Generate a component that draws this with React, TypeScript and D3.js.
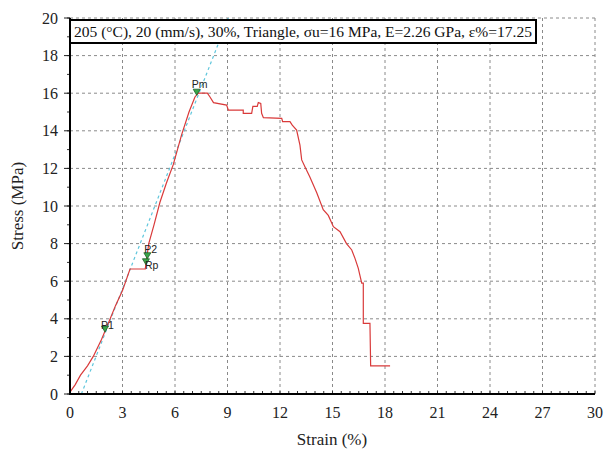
import React from "react";
import * as d3 from "d3";

const strain = [0, 0.3, 0.6, 1.0, 1.33, 1.8, 2.25, 2.6, 3.0, 3.43, 4.3, 4.35, 4.5, 4.8, 5.14, 5.5, 5.9, 6.38, 6.8, 7.14, 7.33, 7.85, 8.0, 8.2, 8.95, 9.05, 9.9, 9.9, 10.38, 10.45, 10.7, 10.76, 10.9, 10.95, 11.05, 12.1, 12.15, 12.57, 12.7, 12.95, 13.14, 13.24, 13.52, 13.7, 14.1, 14.47, 14.76, 15.05, 15.43, 15.8, 16.1, 16.29, 16.47, 16.67, 16.76, 16.76, 17.14, 17.18, 18.29];
const stress = [0.1, 0.5, 1.0, 1.5, 2.0, 2.9, 3.9, 4.7, 5.5, 6.65, 6.65, 7.0, 8.0, 9.0, 10.2, 11.2, 12.2, 13.8, 15.0, 15.8, 16.0, 16.0, 15.8, 15.5, 15.37, 15.1, 15.1, 14.93, 14.93, 15.3, 15.3, 15.5, 15.45, 14.93, 14.7, 14.66, 14.49, 14.49, 14.3, 14.04, 13.24, 12.45, 11.9, 11.56, 10.7, 9.8, 9.5, 8.9, 8.63, 8.0, 7.66, 7.2, 6.7, 5.9, 5.9, 3.76, 3.76, 1.5, 1.5];

const tangentStrain = [0.65, 9.05];
const tangentStress = [0, 20];

const pointNames = ["P1", "P2", "Rp", "Pm"];
const pointStrain = [2.0, 4.42, 4.34, 7.24];
const pointStress = [3.4, 7.3, 6.98, 16.0];

const xTicks = [0, 3, 6, 9, 12, 15, 18, 21, 24, 27, 30];
const yTicks = [0, 2, 4, 6, 8, 10, 12, 14, 16, 18, 20];

const legendText = "205 (°C), 20 (mm/s), 30%, Triangle, σu=16 MPa, E=2.26 GPa, ε%=17.25";

export default function App() {
  const W = 606, H = 454;
  const left = 70, right = 595, top = 18, bottom = 394;
  const x = d3.scaleLinear().domain([0, 30]).range([left, right]);
  const y = d3.scaleLinear().domain([0, 20]).range([bottom, top]);
  const line = d3.line<number>().x((_, i) => x(strain[i])).y((_, i) => y(stress[i]));
  const curve = line(strain) || "";
  const serif = "'Liberation Serif', 'Times New Roman', serif";
  const sans = "'Liberation Sans', Arial, sans-serif";
  const minorX = d3.range(0, 30.01, 0.5);
  const minorY = d3.range(0, 20.01, 1);
  const labelOffsets: Record<string, [number, number]> = {
    P1: [-4, -1],
    P2: [-3, -4],
    Rp: [-1, 6],
    Pm: [-5, -5],
  };
  return (
    <svg width={W} height={H} style={{ position: "absolute", left: 0, top: 0, background: "#fff" }}>
      <rect x={0} y={0} width={W} height={H} fill="#fff" />
      <defs>
        <clipPath id="plotclip">
          <rect x={left} y={top} width={right - left} height={bottom - top} />
        </clipPath>
      </defs>
      {xTicks.filter((t) => t > 0).map((t) => (
        <line key={"gx" + t} x1={x(t)} x2={x(t)} y1={top} y2={bottom} stroke="#8a8a8a" strokeWidth={1} strokeDasharray="3,3" />
      ))}
      {yTicks.filter((t) => t > 0).map((t) => (
        <line key={"gy" + t} x1={left} x2={right} y1={y(t)} y2={y(t)} stroke="#8a8a8a" strokeWidth={1} strokeDasharray="3,3" />
      ))}
      {minorX.map((t) => (
        <line key={"mx" + t} x1={x(t)} x2={x(t)} y1={bottom} y2={bottom - 3} stroke="#333" strokeWidth={1} />
      ))}
      {minorY.map((t) => (
        <line key={"my" + t} x1={left} x2={left - 3} y1={y(t)} y2={y(t)} stroke="#333" strokeWidth={1} />
      ))}
      {yTicks.map((t) => (
        <line key={"ty" + t} x1={left} x2={left - 6} y1={y(t)} y2={y(t)} stroke="#222" strokeWidth={1} />
      ))}
      <g clipPath="url(#plotclip)">
        <line x1={x(tangentStrain[0])} y1={y(tangentStress[0])} x2={x(tangentStrain[1])} y2={y(tangentStress[1])} stroke="#5ec6dc" strokeWidth={1.2} strokeDasharray="3,3" />
        <path d={curve} fill="none" stroke="#d93a3a" strokeWidth={1.2} />
      </g>
      {pointNames.map((n, i) => {
        const px = x(pointStrain[i]);
        const py = y(pointStress[i]);
        const off = labelOffsets[n];
        return (
          <g key={n}>
            <path d={`M${px - 3.5},${py - 4} L${px + 3.5},${py - 4} L${px},${py + 2} Z`} fill="#3aa64a" stroke="#1f5f28" strokeWidth={0.8} />
            <text x={px + off[0]} y={py + off[1]} fontFamily={sans} fontSize={10.5} fill="#222">{n}</text>
          </g>
        );
      })}
      <line x1={left} x2={left} y1={top} y2={bottom + 1} stroke="#000" strokeWidth={2} />
      <line x1={left - 1} x2={right} y1={bottom} y2={bottom} stroke="#000" strokeWidth={2} />
      {xTicks.map((t) => (
        <text key={"lx" + t} x={x(t)} y={418} textAnchor="middle" fontFamily={serif} fontSize={16} fill="#222">{t}</text>
      ))}
      {yTicks.map((t) => (
        <text key={"ly" + t} x={58} y={y(t) + 5.5} textAnchor="end" fontFamily={serif} fontSize={16} fill="#222">{t}</text>
      ))}
      <text x={332} y={445} textAnchor="middle" fontFamily={serif} fontSize={17} fill="#222">Strain (%)</text>
      <text transform={`translate(23,${(top + bottom) / 2}) rotate(-90)`} textAnchor="middle" fontFamily={serif} fontSize={17} fill="#222">Stress (MPa)</text>
      <rect x={70} y={20} width={466} height={23} fill="#fff" stroke="#000" strokeWidth={2} />
      <text x={74} y={37} fontFamily={serif} fontSize={14} fill="#111" textLength={458} lengthAdjust="spacingAndGlyphs">{legendText}</text>
    </svg>
  );
}
